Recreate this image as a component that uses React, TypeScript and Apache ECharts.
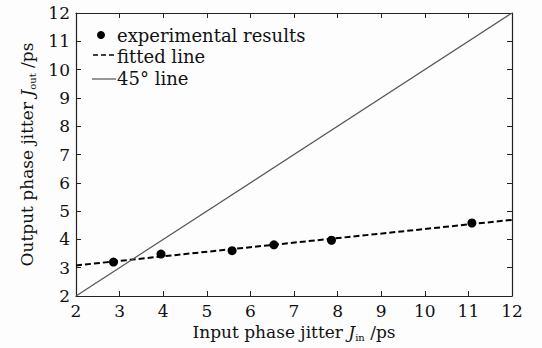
import React, { useEffect, useRef } from "react";
import * as echarts from "echarts";

const inputJitter = [2.86, 3.95, 5.58, 6.54, 7.86, 11.08];
const outputJitter = [3.2, 3.48, 3.6, 3.81, 3.97, 4.58];
const fittedX = [2, 12];
const fittedY = [3.08, 4.69];
const diagX = [2, 12];
const diagY = [2, 12];
const seriesNames = ["experimental results", "fitted line", "45° line"];

const FONT = "DejaVu Serif";
const TICK = { fontFamily: FONT, fontSize: 17, color: "#111" };
const NAME = { fontFamily: FONT, fontSize: 17, color: "#111" };

export default function App() {
  const ref = useRef<HTMLDivElement>(null);
  useEffect(() => {
    if (!ref.current) return;
    const chart = echarts.init(ref.current, undefined, { renderer: "svg" });
    const axisCommon = {
      type: "value",
      min: 2,
      max: 12,
      interval: 1,
      axisLine: { show: true, lineStyle: { color: "#222", width: 1.2 } },
      axisTick: { show: true, inside: true, length: 5, lineStyle: { color: "#222" } },
      splitLine: { show: false },
    };
    const nameRich = {
      n: { ...NAME },
      i: { ...NAME, fontStyle: "italic" },
      s: { fontFamily: FONT, fontSize: 10, color: "#111", padding: [10, 0, 0, 0] },
    };
    const legendText = (text: string) => ({
      text,
      fontFamily: FONT,
      fontSize: 18,
      fill: "#111",
      verticalAlign: "middle",
    });
    chart.setOption({
      animation: false,
      backgroundColor: "#fdfdfd",
      textStyle: { fontFamily: FONT },
      grid: { left: 76, right: 30, top: 13, bottom: 52 },
      graphic: [
        { type: "circle", shape: { cx: 101, cy: 35, r: 4 }, style: { fill: "#000" }, z: 10 },
        { type: "text", x: 117, y: 35, style: legendText(seriesNames[0]), z: 10 },
        { type: "line", shape: { x1: 93, y1: 55, x2: 116, y2: 55 }, style: { stroke: "#000", lineWidth: 1.5, lineDash: [5, 3] }, z: 10 },
        { type: "text", x: 117, y: 56, style: legendText(seriesNames[1]), z: 10 },
        { type: "line", shape: { x1: 92, y1: 79, x2: 116, y2: 79 }, style: { stroke: "#555", lineWidth: 1.2 }, z: 10 },
        { type: "text", x: 117, y: 78, style: legendText(seriesNames[2]), z: 10 },
      ],
      xAxis: [
        {
          ...axisCommon,
          position: "bottom",
          axisLabel: { ...TICK, margin: 6 },
          name: "{n|Input phase jitter }{i|J}{s|in}{n| /ps}",
          nameLocation: "middle",
          nameGap: 25,
          nameTextStyle: { ...NAME, rich: nameRich },
        },
        { ...axisCommon, position: "top", axisLabel: { show: false } },
      ],
      yAxis: [
        {
          ...axisCommon,
          position: "left",
          axisLabel: { ...TICK, margin: 6 },
          name: "{n|Output phase jitter }{i|J}{s|out}{n| /ps}",
          nameLocation: "middle",
          nameRotate: 90,
          nameGap: 38,
          nameTextStyle: { ...NAME, rich: nameRich },
        },
        { ...axisCommon, position: "right", axisLabel: { show: false } },
      ],
      series: [
        {
          name: seriesNames[0],
          type: "scatter",
          data: inputJitter.map((x, i) => [x, outputJitter[i]]),
          symbol: "circle",
          symbolSize: 9,
          itemStyle: { color: "#000", opacity: 1 },
          z: 5,
        },
        {
          name: seriesNames[1],
          type: "line",
          data: fittedX.map((x, i) => [x, fittedY[i]]),
          symbol: "none",
          lineStyle: { color: "#000", width: 2, type: [6, 3] },
        },
        {
          name: seriesNames[2],
          type: "line",
          data: diagX.map((x, i) => [x, diagY[i]]),
          symbol: "none",
          lineStyle: { color: "#555", width: 1.2 },
        },
      ],
    });
    return () => chart.dispose();
  }, []);
  return <div ref={ref} style={{ width: 542, height: 348, position: "absolute", left: 0, top: 0 }} />;
}
